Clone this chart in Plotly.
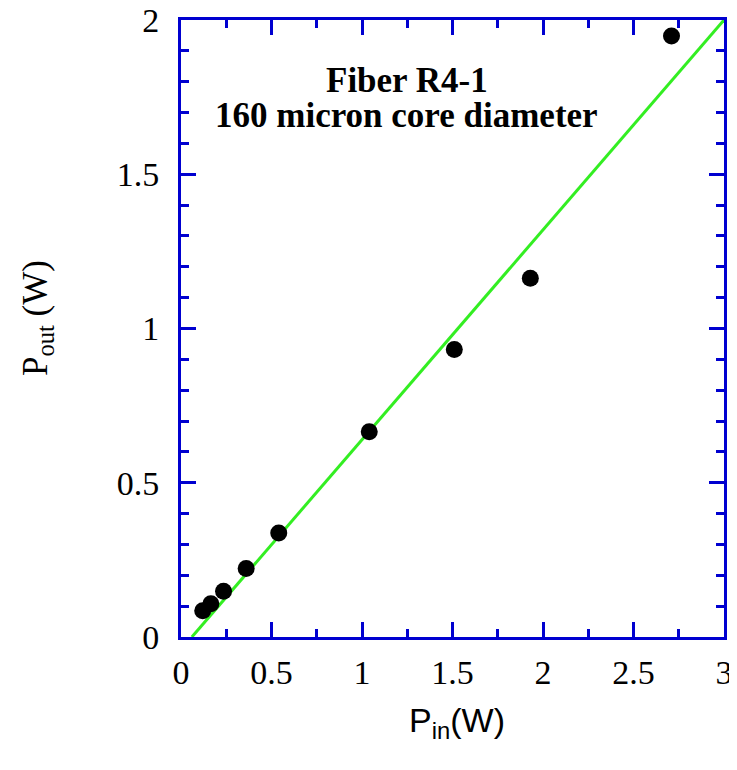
import plotly.graph_objects as go

p_in = [0.12, 0.165, 0.235, 0.36, 0.54, 1.04, 1.51, 1.93, 2.71]
p_out = [0.085, 0.108, 0.148, 0.222, 0.337, 0.665, 0.932, 1.163, 1.948]
fit_x = [0.06, 3.0]
fit_y = [0.0, 2.0]
x_ticks = [0, 0.5, 1, 1.5, 2, 2.5, 3]
x_labels = ["0", "0.5", "1", "1.5", "2", "2.5", "3"]
y_ticks = [0, 0.5, 1, 1.5, 2]
y_labels = ["0", "0.5", "1", "1.5", "2"]

AX = "#0000d0"

fig = go.Figure()
fig.add_trace(go.Scatter(x=fit_x, y=fit_y, mode="lines",
                         line=dict(color="#33ee22", width=3), showlegend=False))
fig.add_trace(go.Scatter(x=p_in, y=p_out, mode="markers",
                         marker=dict(color="black", size=17), showlegend=False))

axis_common = dict(showgrid=False, zeroline=False, showline=True, linecolor=AX, linewidth=3,
                   ticks="inside", ticklen=15, tickwidth=3, tickcolor=AX, mirror="allticks",
                   automargin=False, ticklabeloverflow="allow",
                   tickfont=dict(family="Liberation Serif", size=34, color="black"))

fig.update_xaxes(range=[0, 3], tickvals=x_ticks, ticktext=x_labels,
                 minor=dict(dtick=0.25, tick0=0, ticks="inside", ticklen=8, tickwidth=3, tickcolor=AX),
                 ticklabelstandoff=3, **axis_common)
fig.update_yaxes(range=[0, 2], tickvals=y_ticks, ticktext=y_labels,
                 minor=dict(dtick=0.1, tick0=0, ticks="inside", ticklen=8, tickwidth=3, tickcolor=AX),
                 ticklabelstandoff=12, **axis_common)

# page has an 8px body margin; figure is sized so the plot area lands where the reference has it
OFF = 8
W, H = 737 - OFF, 770 - OFF
L, R, T, B = 181 - OFF, 13, 20 - OFF, 133
pw, ph = W - L - R, H - T - B

fig.update_layout(
    width=W, height=H,
    margin=dict(l=L, r=R, t=T, b=B),
    plot_bgcolor="white", paper_bgcolor="white",
    annotations=[
        dict(text="<b>Fiber R4-1</b>", x=407, y=80, showarrow=False,
             font=dict(family="Liberation Serif", size=35, color="black")),
        dict(text="<b>160 micron core diameter</b>", x=406, y=116, showarrow=False,
             font=dict(family="Liberation Serif", size=35, color="black")),
        dict(text="P<sub>in</sub>(W)", x=457, y=722, showarrow=False,
             font=dict(family="Liberation Sans", size=34, color="black")),
        dict(text="P<sub>out</sub> (W)", x=37, y=318, showarrow=False, textangle=-90,
             font=dict(family="Liberation Serif", size=35, color="black")),
    ],
)

# annotation positions above are page pixels; convert to paper coordinates
for a in fig.layout.annotations:
    px, py = a.x - OFF, a.y - OFF
    a.xref = "paper"
    a.yref = "paper"
    a.x = (px - L) / pw
    a.y = (H - B - py) / ph
    a.xanchor = "center"
    a.yanchor = "middle"

fig.write_html("out.html")
